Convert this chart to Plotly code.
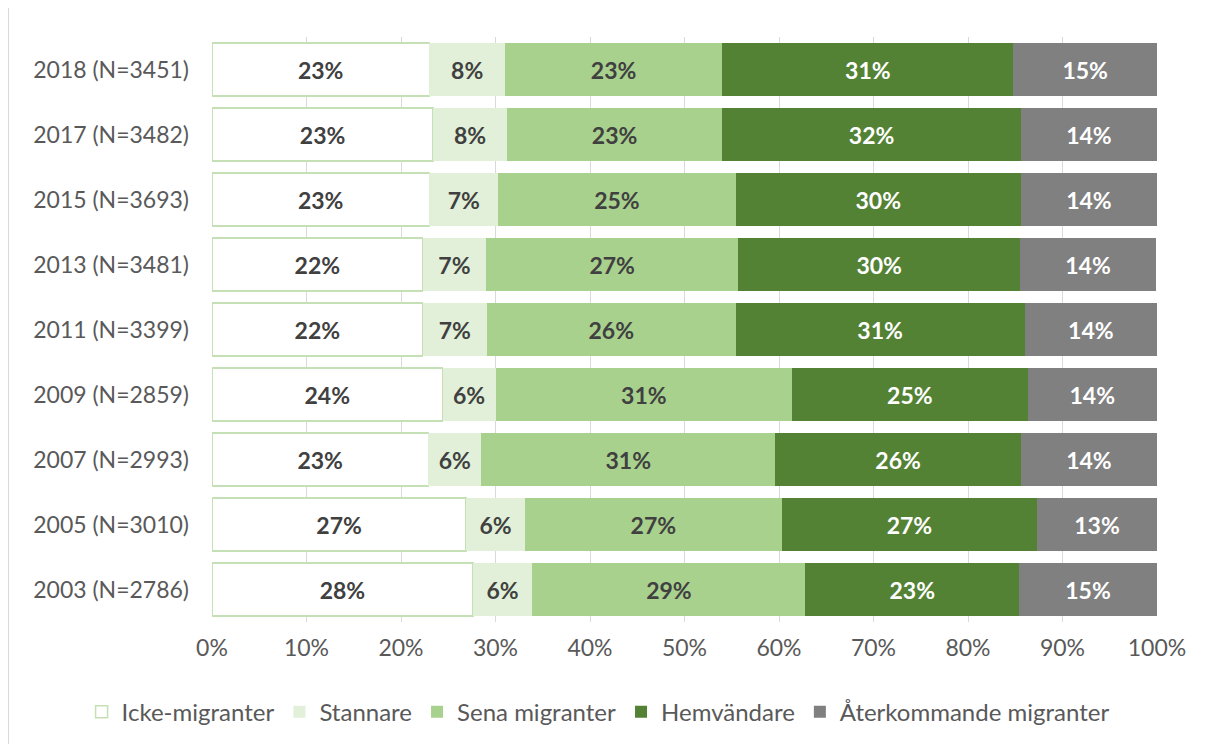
import plotly.graph_objects as go

# Rows as shown top to bottom
years = ["2018 (N=3451)", "2017 (N=3482)", "2015 (N=3693)", "2013 (N=3481)",
         "2011 (N=3399)", "2009 (N=2859)", "2007 (N=2993)", "2005 (N=3010)",
         "2003 (N=2786)"]

icke = [23.0, 23.4, 23.0, 22.3, 22.3, 24.4, 22.9, 26.9, 27.6]
stannare = [8.0, 7.8, 7.3, 6.7, 6.8, 5.6, 5.6, 6.2, 6.3]
sena = [23.0, 22.8, 25.1, 26.7, 26.3, 31.4, 31.1, 27.2, 28.9]
hemvandare = [30.8, 31.6, 30.2, 29.8, 30.6, 24.9, 26.0, 27.0, 22.6]
aterkommande = [15.2, 14.4, 14.4, 14.4, 14.0, 13.7, 14.4, 12.7, 14.6]

x_ticks = [0, 10, 20, 30, 40, 50, 60, 70, 80, 90, 100]

series = [
    ("Icke-migranter", icke, "#FFFFFF", "#C5E0B4", "#404040"),
    ("Stannare", stannare, "#E2F0D9", "#E2F0D9", "#404040"),
    ("Sena migranter", sena, "#A9D18E", "#A9D18E", "#404040"),
    ("Hemvändare", hemvandare, "#548235", "#548235", "#FFFFFF"),
    ("Återkommande migranter", aterkommande, "#808080", "#808080", "#FFFFFF"),
]

FONT = "Lato"

fig = go.Figure()
for name, vals, fill, edge, txt in series:
    fig.add_trace(go.Bar(
        y=years, x=vals, name=name, orientation="h",
        marker=dict(color=fill, line=dict(color=edge, width=1.5 if fill == "#FFFFFF" else 0)),
        texttemplate="<b>%{x:.0f}%</b>", textposition="inside",
        insidetextanchor="middle", textangle=0,
        insidetextfont=dict(family=FONT, size=23, color=txt),
        hoverinfo="skip",
    ))

# left edge of the chart frame
fig.add_shape(type="line", xref="paper", yref="paper",
              x0=-203.5 / 945, x1=-203.5 / 945, y0=-0.3, y1=1.2,
              line=dict(color="#D9D9D9", width=1))

# page body has an 8px margin, so the figure is 8px smaller than the window
fig.update_layout(
    barmode="stack", bargap=0.185,
    width=1205, height=736,
    margin=dict(l=204, r=56, t=29, b=122, autoexpand=False),
    plot_bgcolor="white", paper_bgcolor="white",
    font=dict(family=FONT, color="#595959", size=23),
    showlegend=True,
    legend=dict(orientation="h", x=-0.138, xanchor="left", y=-0.154, yanchor="middle",
                font=dict(family=FONT, size=24, color="#595959"),
                traceorder="normal", itemwidth=30, tracegroupgap=0),
)

fig.update_xaxes(
    range=[0, 100], tickvals=x_ticks, ticktext=[f"{t}%" for t in x_ticks],
    showgrid=True, gridcolor="#D9D9D9", gridwidth=1,
    showline=False, ticks="",
    ticklabelstandoff=10, zeroline=False, fixedrange=True,
    tickfont=dict(family=FONT, size=23, color="#595959"),
)
fig.update_yaxes(
    autorange="reversed", showgrid=False, ticks="", ticklabelstandoff=22,
    tickfont=dict(family=FONT, size=23, color="#595959"), fixedrange=True,
)

fig.write_html("out.html")
